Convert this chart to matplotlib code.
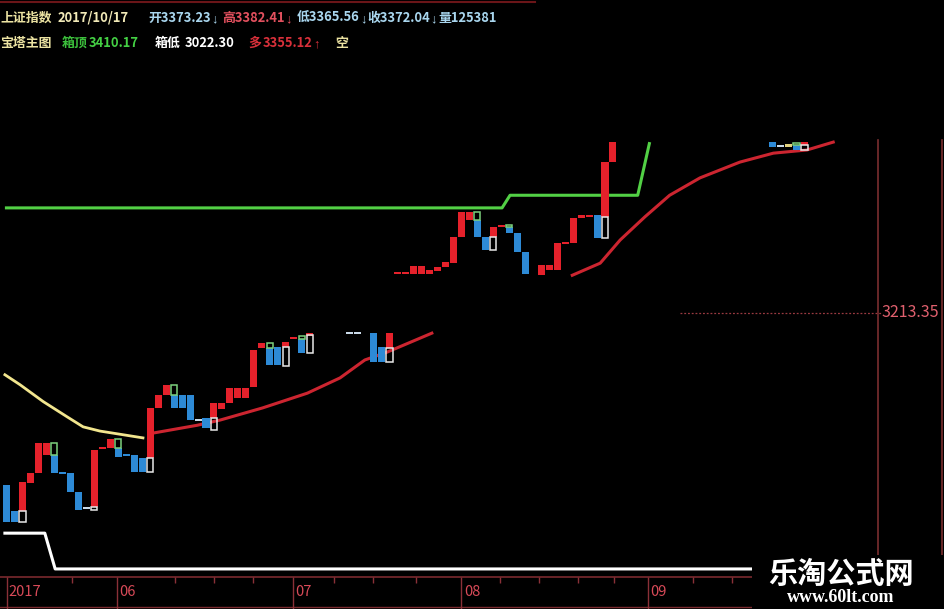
import matplotlib
matplotlib.use("Agg")
import matplotlib.pyplot as plt
from matplotlib.lines import Line2D
from matplotlib.patches import Rectangle

plt.rcParams["font.family"] = ["Noto Sans CJK SC", "DejaVu Sans"]

W, H = 945, 609

# tower bars: bar index, low, high, kind (r rising, b falling, w/y flat)
bar_idx = [0, 1, 2, 3, 4, 5, 6, 7, 8, 9, 10, 11, 12, 13, 14, 15, 16, 17, 18, 19,
           20, 21, 22, 23, 24, 25, 26, 27, 28, 29, 30, 31, 32, 33, 34, 35, 36, 37, 38,
           43, 44, 46, 47, 48,
           49, 50, 51, 52, 53, 54, 55, 56, 57, 58, 59, 60, 61, 62, 63, 64, 65,
           67, 68, 69, 70, 71, 72, 73, 74, 75, 76,
           96, 97, 98, 99, 100]
bar_lo = [2816, 2816, 2837, 2890, 2909, 2944, 2909, 2907, 2873, 2839, 2841, 2845, 2955,
          2957, 2940, 2942, 2911, 2911, 2938, 3033,
          3058, 3033, 3033, 3010, 3008, 2995, 3014, 3031, 3042, 3052, 3052, 3073, 3147,
          3115, 3115, 3149, 3164, 3137, 3170,
          3173, 3173, 3120, 3120, 3147,
          3287, 3287, 3287, 3287, 3287, 3293, 3301, 3308, 3358, 3390, 3358, 3333, 3358,
          3377, 3365, 3329, 3287,
          3286, 3295, 3295, 3344, 3346, 3394, 3396, 3356, 3396, 3500,
          3529, 3529, 3529, 3523, 3532]
bar_hi = [2887, 2837, 2892, 2909, 2966, 2966, 2944, 2911, 2909, 2873, 2845, 2953, 2959,
          2974, 2957, 2945, 2944, 2938, 3033, 3058,
          3077, 3058, 3058, 3058, 3012, 3014, 3042, 3042, 3071, 3071, 3071, 3143, 3156,
          3147, 3149, 3158, 3168, 3164, 3175,
          3177, 3177, 3175, 3149, 3175,
          3291, 3291, 3303, 3303, 3295, 3301, 3310, 3358, 3405, 3405, 3390, 3358, 3377,
          3381, 3377, 3365, 3329,
          3304, 3304, 3346, 3348, 3394, 3400, 3400, 3400, 3500, 3538,
          3538, 3532, 3534, 3532, 3538]
bar_kind = ("bbrrrrbbbbwrrrbbbbrr"
            "rbbbwbrrrrrrrbbrrbr"
            "wwbbr"
            "rrrrrrrrrrbbrrbbb"
            "rrrrrrrbrr"
            "bwybr")

# hollow boxes at the turning points: index, low, high, edge (w white, g green)
box_idx = [2, 6, 11, 14, 18, 21, 26, 33, 35, 37, 38, 48, 59, 61, 63, 75, 99, 100]
box_lo = [2816, 2944, 2839, 2957, 2911, 3058, 2991, 3147, 3113, 3164, 3137, 3120,
          3390, 3333, 3377, 3356, 3532, 3523]
box_hi = [2837, 2966, 2845, 2974, 2938, 3077, 3014, 3156, 3149, 3170, 3171, 3147,
          3405, 3358, 3381, 3396, 3536, 3532]
box_kind = "wgwgwgwgwgwwgwgwgw"

# moving average (red), two visible pieces
ma_a_x = [18.3, 23.9, 26.8, 32.1, 37.7, 41.8, 44.9, 47.7, 53.3]
ma_a_y = [2985, 3000, 3010, 3033, 3061, 3090, 3124, 3139, 3175]
ma_b_x = [70.9, 74.4, 76.9, 80.0, 83.1, 86.9, 91.9, 96.1, 100.3, 103.6]
ma_b_y = [3285, 3308, 3352, 3396, 3437, 3470, 3500, 3517, 3523, 3538]

# yellow line on the left
yel_x = [-0.2, 1.7, 4.6, 7.6, 9.6, 11.7, 17.1]
yel_y = [3096, 3077, 3045, 3016, 2997, 2989, 2976]

# box top (green) and box low (white)
top_x = [-0.2, 62.1, 63.1, 79.1, 80.6]
top_y = [3413, 3413, 3437, 3437, 3538]
low_x = [-0.2, 4.8, 6.1, 93.4]
low_y = [2795, 2795, 2727, 2727]

month_idx = [0, 13.85, 35.9, 57.0, 80.4]
month_lbl = ["2017", "06", "07", "08", "09"]
week_idx = [8.2, 21.1, 26.0, 30.9, 41.0, 45.9, 51.3, 61.8, 66.7, 71.6, 76.1, 86.0, 90.9]
price_mark = 3213.35

hdr1_txt = ["上证指数", "2017/10/17", "开3373.23↓", "高3382.41↓", "低3365.56↓",
            "收3372.04↓", "量125381"]
hdr1_col = ["#ece3a2", "#f2eab8", "#a9d6ee", "#e2505e", "#a9d6ee", "#a9d6ee", "#a9d6ee"]
hdr2_txt = ["宝塔主图", "箱顶", "3410.17", "箱低", "3022.30", "多", "3355.12↑", "空"]
hdr2_col = ["#ece3a2", "#3cc03c", "#44d044", "#ffffff", "#ffffff", "#d8303a", "#d8303a",
            "#ece3a2"]

kind_col = {"r": "#e5212b", "b": "#2d8ad6", "w": "#c9d9e8", "y": "#e2d27e"}
edge_col = {"w": "#e8e8e8", "g": "#7cd27c"}

# layout: bar 0 sits at pixel 6.5, bars are 7.98 px apart
X0, PITCH = 6.5, 7.98
P0, PSCALE = 3808.0, 1.9   # price at pixel row 0, price per pixel row


def fx(px):
    return px / W


def fy(py):
    return 1 - py / H


fig = plt.figure(figsize=(W / 100, H / 100), dpi=100, facecolor="black")
ax = fig.add_axes([0, 0, 1, 1])
ax.set_facecolor("black")
ax.set_xlim(-X0 / PITCH, (W - X0) / PITCH)
ax.set_ylim(P0 - PSCALE * H, P0)
ax.axis("off")

ax.plot(top_x, top_y, color="#52d045", lw=2.2, zorder=2, solid_capstyle="butt")
ax.plot(low_x, low_y, color="white", lw=2.2, zorder=2)
ax.plot(yel_x, yel_y, color="#f2e68e", lw=2.0, zorder=2)
ax.plot(ma_a_x, ma_a_y, color="#cc2530", lw=2.2, zorder=2)
ax.plot(ma_b_x, ma_b_y, color="#cc2530", lw=2.2, zorder=2)

for i, lo, hi, k in zip(bar_idx, bar_lo, bar_hi, bar_kind):
    ax.bar(i, hi - lo, bottom=lo, width=0.88, color=kind_col[k], lw=0, zorder=3)
for i, lo, hi, k in zip(box_idx, box_lo, box_hi, box_kind):
    ax.bar(i, hi - lo, bottom=lo, width=0.78, fill=False, edgecolor=edge_col[k],
           lw=1.1, zorder=4)

# price marker on the right axis
yt = ax.get_yaxis_transform()
ax.plot([fx(680), fx(882)], [price_mark, price_mark], transform=yt,
        color="#9a3a40", lw=0.9, ls=(0, (1.5, 1.5)))
ax.text(fx(882), price_mark, f"{price_mark:.2f}", transform=yt, color="#e0606e",
        fontsize=11.5, va="center", ha="left")

# time axis strip
xt = ax.get_xaxis_transform()
strip_top = fy(577)
ax.plot([-1, 120], [strip_top, strip_top], transform=xt, color="#7a2a2e", lw=1.2)
ax.plot([-1, 120], [fy(607), fy(607)], transform=xt, color="#7a2a2e", lw=1.0)
ax.vlines(month_idx, 0, strip_top, transform=xt, color="#8a3038", lw=1.0)
ax.vlines(week_idx, fy(583), strip_top, transform=xt, color="#8a3038", lw=1.0)
for i, lbl in zip(month_idx, month_lbl):
    ax.text(i + 0.3, fy(592), lbl, transform=xt, color="#d84a58", fontsize=10.5,
            ha="left", va="center")

# frame lines on the right
fig.add_artist(Line2D([fx(878), fx(878)], [fy(140), fy(577)], color="#7a2e30", lw=1.2))
fig.add_artist(Line2D([fx(942), fx(942)], [fy(140), fy(577)], color="#7a2e30", lw=1.2))
fig.add_artist(Line2D([0, fx(535)], [fy(1.5), fy(1.5)], color="#6a1518", lw=1.5))

# header; arrows drawn in a narrow latin face right after their number
renderer = fig.canvas.get_renderer()
HDR_SIZE = 9.3


def header_item(x, y, txt, col):
    arrow = txt[-1] if txt[-1] in "↑↓" else ""
    body = txt[:-1] if arrow else txt
    t = fig.text(fx(x), fy(y), body, color=col, fontsize=HDR_SIZE, fontweight="bold",
                 family="Noto Sans CJK SC", ha="left", va="baseline")
    if arrow:
        x1 = t.get_window_extent(renderer).x1
        fig.text(x1 / W + fx(0.5), fy(y), arrow, color=col, fontsize=HDR_SIZE,
                 family="Liberation Sans", ha="left", va="baseline")


hdr1_x = [0, 58, 148, 222, 297, 367, 438]
hdr2_x = [0, 62, 89, 155, 185, 248, 263, 335]
for x, t, c in zip(hdr1_x, hdr1_txt, hdr1_col):
    header_item(x, 22, t, c)
for x, t, c in zip(hdr2_x, hdr2_txt, hdr2_col):
    header_item(x, 47, t, c)

# watermark
fig.add_artist(Rectangle((fx(752), 0), fx(W - 752), fy(555), transform=fig.transFigure,
                         facecolor="black", edgecolor="none", zorder=5))
fig.text(fx(841), fy(574), "乐淘公式网", color="white", fontsize=21, fontweight="bold",
         ha="center", va="center", zorder=6)
fig.text(fx(841), fy(598), "www.60lt.com", color="white", fontsize=13,
         fontweight="bold", family="Liberation Serif", ha="center", va="center", zorder=6)

fig.savefig("out.png", dpi=100, facecolor="black")
